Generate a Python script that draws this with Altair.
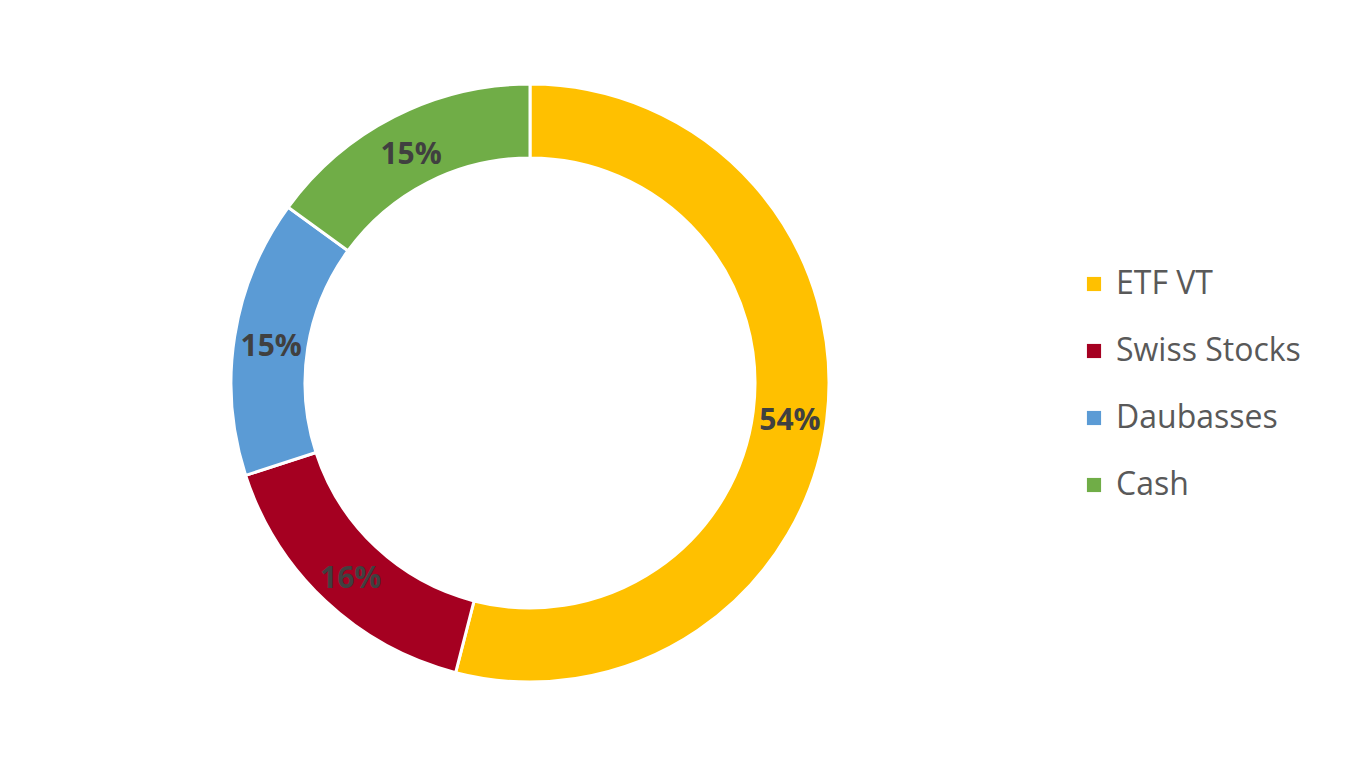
import altair as alt
import pandas as pd

categories = ["ETF VT", "Swiss Stocks", "Daubasses", "Cash"]
values = [54, 16, 15, 15]
labels = ["54%", "16%", "15%", "15%"]
colors = ["#FFC000", "#A50021", "#5B9BD5", "#70AD47"]

df = pd.DataFrame({
    "category": categories,
    "value": values,
    "label": labels,
    "order": list(range(len(categories))),
})

color = alt.Color(
    "category:N",
    scale=alt.Scale(domain=categories, range=colors),
    sort=categories,
    legend=alt.Legend(
        title=None,
        orient="none",
        legendX=1070,
        legendY=260,
        symbolType="square",
        symbolSize=200,
        symbolStrokeWidth=0,
        labelFontSize=32,
        labelFont="Open Sans",
        labelColor="#595959",
        labelOffset=6,
        rowPadding=35,
        padding=0,
        labelLimit=400,
    ),
)

base = alt.Chart(df).encode(
    theta=alt.Theta("value:Q", stack=True),
    order=alt.Order("order:Q"),
)

arc = base.mark_arc(
    outerRadius=299, innerRadius=225, stroke="white", strokeWidth=3
).encode(color=color)

text = base.mark_text(
    radius=262, dy=5, fontSize=30, fontWeight="bold", font="Open Sans", color="#404040"
).encode(text="label:N")

chart = (arc + text).properties(width=1044, height=750, padding=0).configure_view(stroke=None)

chart.save("out.html", embed_options={"renderer": "svg", "actions": False})
